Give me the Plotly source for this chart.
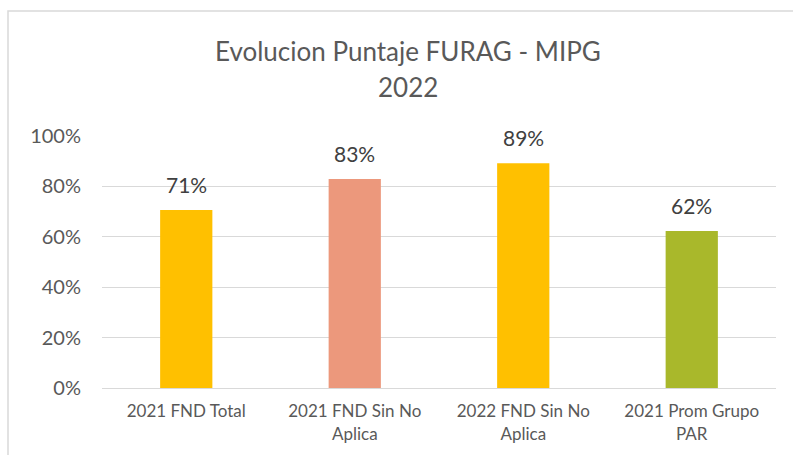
import plotly.graph_objects as go

title_lines = ["Evolucion Puntaje FURAG - MIPG", "2022"]
categories = ["2021 FND Total", "2021 FND Sin No<br>Aplica", "2022 FND Sin No<br>Aplica", "2021 Prom Grupo<br>PAR"]
values = [0.706, 0.829, 0.892, 0.623]
colors = ["#FFC000", "#EC987C", "#FFC000", "#A9B82B"]
labels = ["71%", "83%", "89%", "62%"]
y_ticks = [0, 0.2, 0.4, 0.6, 0.8, 1.0]

W, H = 793, 455
L, R, T, B = 102, 17, 136, 67
pw, ph = W - L - R, H - T - B

fig = go.Figure(go.Bar(
    x=categories, y=values,
    marker=dict(color=colors, line=dict(width=0)),
    hoverinfo="skip",
))

annotations = [
    dict(x=c, y=v, xref="x", yref="y", text=t, showarrow=False,
         yanchor="bottom", xanchor="center", yshift=11,
         font=dict(family="Lato", size=21, color="#404040"))
    for c, v, t in zip(categories, values, labels)
]
for line, py in zip(title_lines, [51, 87]):
    annotations.append(dict(
        x=(408 - L) / pw, y=(H - B - py) / ph, xref="paper", yref="paper",
        text=line, showarrow=False, xanchor="center", yanchor="middle",
        font=dict(family="Lato", size=26, color="#595959")))

fig.update_layout(
    width=W, height=H,
    margin=dict(l=L, r=R, t=T, b=B, pad=0),
    paper_bgcolor="white", plot_bgcolor="white",
    bargap=0.69,
    showlegend=False,
    annotations=annotations,
    font=dict(family="Lato", color="#595959"),
    shapes=[dict(type="rect", xref="paper", yref="paper",
                 x0=(8 - L) / pw, x1=1.2, y0=-0.6, y1=(H - B - 11) / ph,
                 line=dict(color="#D9D9D9", width=1.5), fillcolor="rgba(0,0,0,0)",
                 layer="below")],
)
fig.update_yaxes(range=[0, 1], tickvals=y_ticks, tickformat=".0%",
                 showgrid=True, gridcolor="#D9D9D9", gridwidth=1,
                 zeroline=False, showline=False, ticks="",
                 tickfont=dict(family="Lato", size=20, color="#595959"),
                 ticklabelstandoff=20)
fig.update_xaxes(showline=True, linecolor="#D9D9D9", linewidth=1, ticks="",
                 tickfont=dict(family="Lato", size=17, color="#595959"),
                 ticklabelstandoff=8)

fig.write_html("out.html", config={"displayModeBar": False},
               post_script="document.body.style.margin='0';")
